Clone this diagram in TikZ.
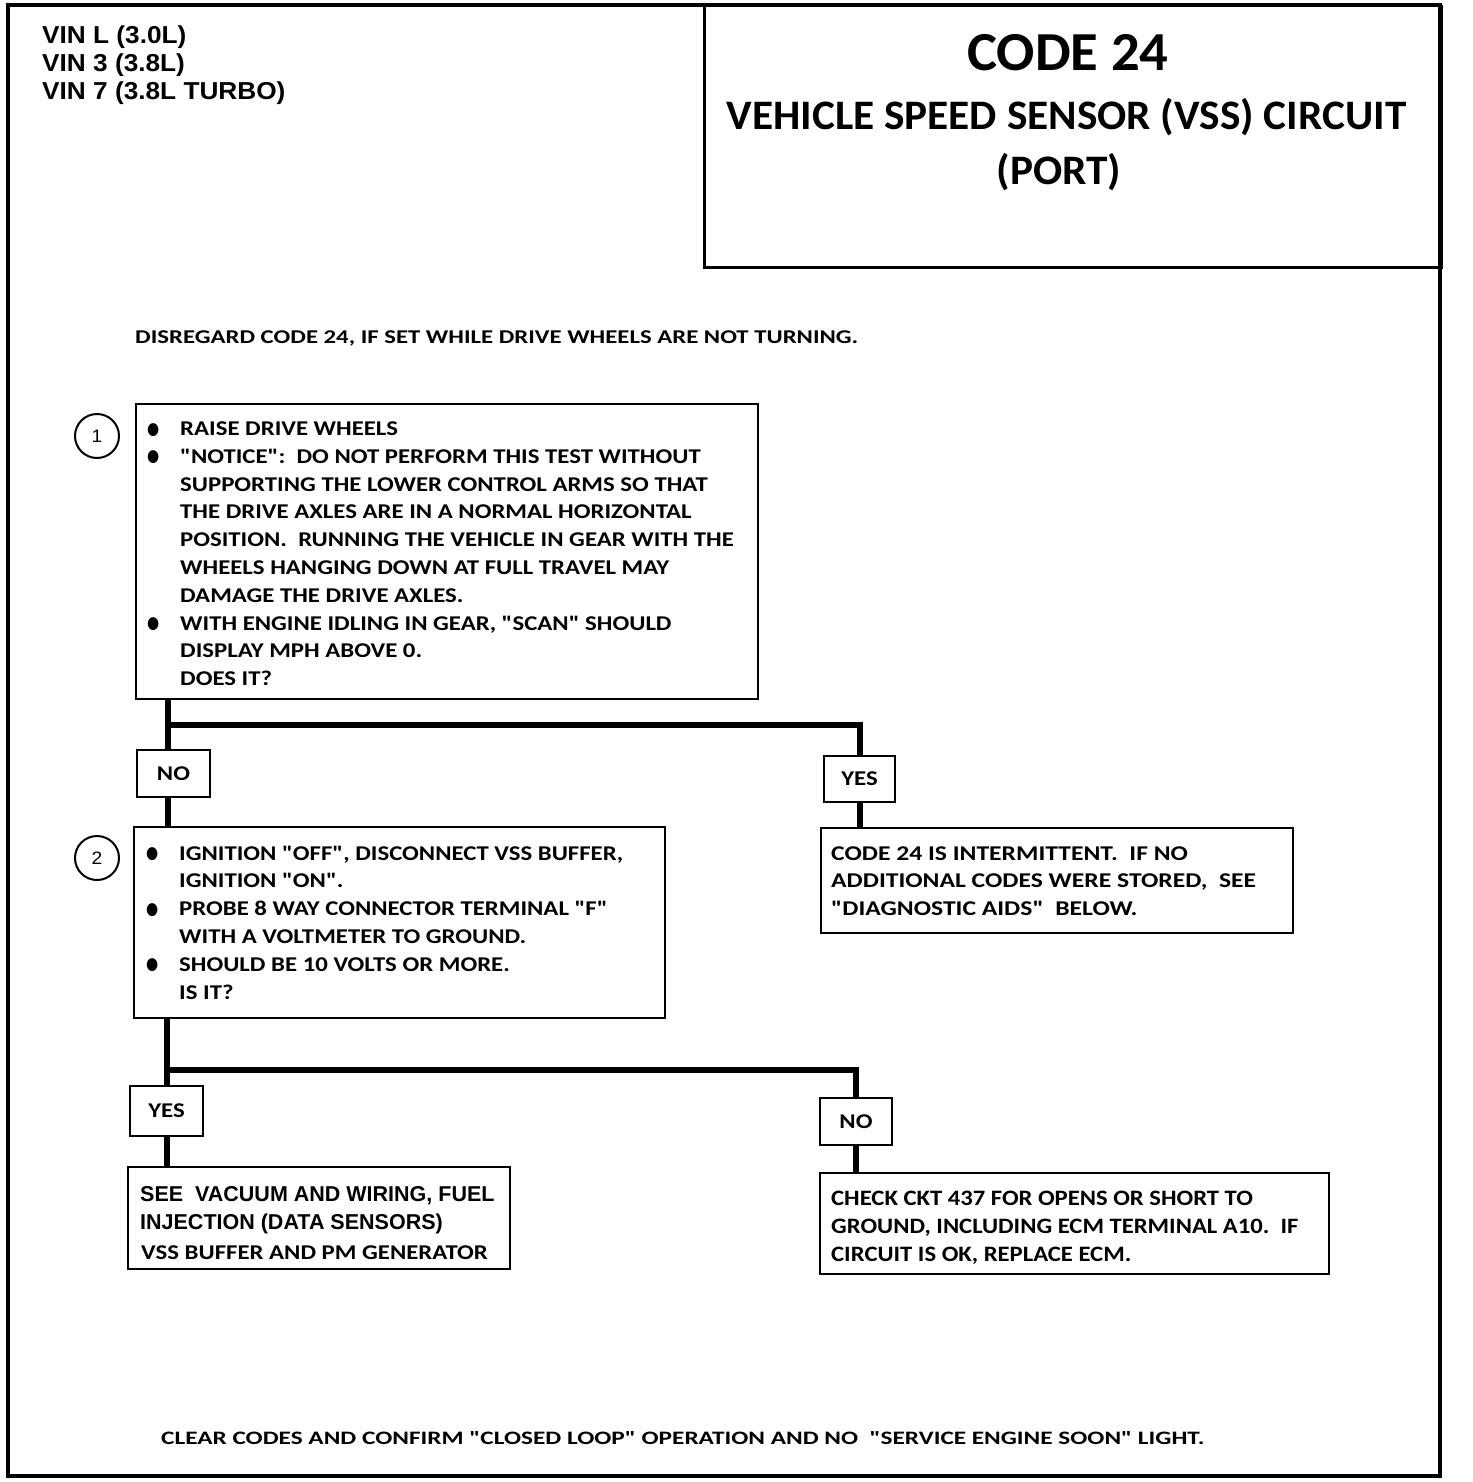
\documentclass[tikz,border=0pt]{standalone}
\usepackage{graphicx}
\usepackage{fontspec}
\setmainfont{Carlito}
\newfontfamily\vinf{Liberation Sans}[FakeStretch=1.07]
\newfontfamily\helvf{Liberation Sans}[FakeStretch=1.0]
\newfontfamily\titlef{Carlito}[FakeStretch=1.03]
\newfontfamily\bodyf{Carlito}[FakeStretch=1.18]
\newfontfamily\boxthree{Carlito}[FakeStretch=1.22]
\newfontfamily\disf{Carlito}[FakeStretch=1.27]
\newfontfamily\clrf{Carlito}[FakeStretch=1.33]
\newfontfamily\condf{Carlito}[FakeStretch=1.12]
\newfontfamily\dejavu{DejaVu Sans}
\newcommand\txtlines[1]{\begin{tabular}[t]{@{}l@{}}#1\end{tabular}}
\newcommand\bul{\makebox[34pt][l]{\hspace{1pt}\raisebox{1.5pt}{\scalebox{0.82}[1]{\dejavu\fontsize{17}{17}\selectfont ●}}}}
\newcommand\ind{\hspace*{34pt}}
\begin{document}
\begin{tikzpicture}[x=1pt,y=-1pt,
  frame/.style={draw, line width=3.5pt},
  box/.style={draw, line width=2.2pt, rectangle, inner sep=0pt, anchor=north west},
  lbl/.style={draw, line width=2.2pt, rectangle, inner sep=0pt, font=\bodyf\bfseries\fontsize{21}{24}\selectfont},
  txt/.style={anchor=base west, inner sep=0pt},
  conn/.style={line width=6pt},
  num/.style={draw, circle, line width=2pt, minimum size=44pt, inner sep=0pt, font=\vinf\fontsize{18}{18}\selectfont}]
\useasboundingbox (0,0) rectangle (1472,1482);
% outer frame and title box
\draw[frame] (8,5) rectangle (1440,1476);
\node[box, line width=2.5pt, minimum width=737pt, minimum height=261pt] (title) at (703,5) {};
\node[anchor=base, inner sep=0pt, font=\titlef\bfseries\fontsize{55}{55}\selectfont] (t1) at (1068,71) {CODE 24};
\node[anchor=base, inner sep=0pt, font=\titlef\bfseries\fontsize{42}{42}\selectfont] (t2) at (1066.5,129.5) {VEHICLE SPEED SENSOR (VSS) CIRCUIT};
\node[anchor=base, inner sep=0pt, font=\titlef\bfseries\fontsize{42}{42}\selectfont] (t3) at (1059,185) {(PORT)};
% VIN
\node[txt, font=\vinf\bfseries\fontsize{24.5}{28}\selectfont] (vin) at (42,43.5) {\txtlines{VIN L (3.0L)\\VIN 3 (3.8L)\\VIN 7 (3.8L TURBO)}};
% notes
\node[txt, font=\disf\bfseries\fontsize{19.5}{24}\selectfont] (dis) at (135,343.5) {DISREGARD CODE 24, IF SET WHILE DRIVE WHEELS ARE NOT TURNING.};
\node[txt, font=\clrf\bfseries\fontsize{19}{24}\selectfont] (clr) at (161,1444) {CLEAR CODES AND CONFIRM "CLOSED LOOP" OPERATION AND NO\ \ "SERVICE ENGINE SOON" LIGHT.};
% step circles
\node[num] (c1) at (97,436) {1};
\node[num] (c2) at (97,858) {2};
% boxes
\node[box, minimum width=622pt, minimum height=295pt] (b1) at (135,403) {};
\node[box, minimum width=531pt, minimum height=191pt] (b2) at (133,826) {};
\node[box, minimum width=472pt, minimum height=105pt] (b3) at (820,827) {};
\node[box, minimum width=382pt, minimum height=102pt] (b4) at (127,1166) {};
\node[box, minimum width=509pt, minimum height=101pt] (b5) at (819,1172) {};
% labels
\node[lbl, minimum width=73pt, minimum height=47pt] (no1) at (173.5,773.5) {NO};
\node[lbl, minimum width=71pt, minimum height=46pt] (yes1) at (859.5,779) {YES};
\node[lbl, minimum width=73pt, minimum height=50pt] (yes2) at (166.5,1111) {YES};
\node[lbl, minimum width=72pt, minimum height=47pt] (no2) at (856,1121.5) {NO};
% box texts
\node[txt, font=\bodyf\bfseries\fontsize{21}{27.8}\selectfont] (x1) at (146,435.5) {\txtlines{%
\bul RAISE DRIVE WHEELS\\
\bul "NOTICE":\ \ DO NOT PERFORM THIS TEST WITHOUT\\
\ind SUPPORTING THE LOWER CONTROL ARMS SO THAT\\
\ind THE DRIVE AXLES ARE IN A NORMAL HORIZONTAL\\
\ind POSITION.\ \ RUNNING THE VEHICLE IN GEAR WITH THE\\
\ind WHEELS HANGING DOWN AT FULL TRAVEL MAY\\
\ind DAMAGE THE DRIVE AXLES.\\
\bul WITH ENGINE IDLING IN GEAR, "SCAN" SHOULD\\
\ind DISPLAY MPH ABOVE 0.\\
\ind DOES IT?}};
\node[txt, font=\bodyf\bfseries\fontsize{21}{27.8}\selectfont] (x2) at (145,860) {\txtlines{%
\bul IGNITION "OFF", DISCONNECT VSS BUFFER,\\
\ind IGNITION "ON".\\
\bul PROBE 8 WAY CONNECTOR TERMINAL "F"\\
\ind WITH A VOLTMETER TO GROUND.\\
\bul SHOULD BE 10 VOLTS OR MORE.\\
\ind IS IT?}};
\node[txt, font=\boxthree\bfseries\fontsize{21}{27.6}\selectfont] (x3) at (831,860) {\txtlines{%
CODE 24 IS INTERMITTENT.\ \ IF NO\\
ADDITIONAL CODES WERE STORED,\ \ SEE\\
"DIAGNOSTIC AIDS"\ \ BELOW.}};
\node[txt, font=\helvf\bfseries\fontsize{21.5}{27.5}\selectfont] (x4) at (140,1201.5) {\txtlines{%
SEE\ \ VACUUM AND WIRING, FUEL\\
INJECTION (DATA SENSORS)}};
\node[txt, font=\bodyf\bfseries\fontsize{21}{27.5}\selectfont] (x4b) at (141,1259.5) {VSS BUFFER AND PM GENERATOR};
\node[txt, font=\condf\bfseries\fontsize{22}{28}\selectfont] (x5) at (831,1205.5) {\txtlines{%
CHECK CKT 437 FOR OPENS OR SHORT TO\\
GROUND, INCLUDING ECM TERMINAL A10.\ \ IF\\
CIRCUIT IS OK, REPLACE ECM.}};
% connectors
\coordinate (j1) at (168,725);
\coordinate (j2) at (167,1070);
\draw[conn] (b1.south -| j1) -- (j1 |- no1.north);
\draw[conn] (j1) -| (yes1.north);
\draw[conn] (no1.south -| j1) -- (j1 |- b2.north);
\draw[conn] (yes1.south) -- (b3.north -| yes1.south);
\draw[conn] (b2.south -| j2) -- (j2 |- yes2.north);
\draw[conn] (j2) -| (no2.north);
\draw[conn] (yes2.south -| j2) -- (j2 |- b4.north);
\draw[conn] (no2.south) -- (b5.north -| no2.south);
\end{tikzpicture}
\end{document}
